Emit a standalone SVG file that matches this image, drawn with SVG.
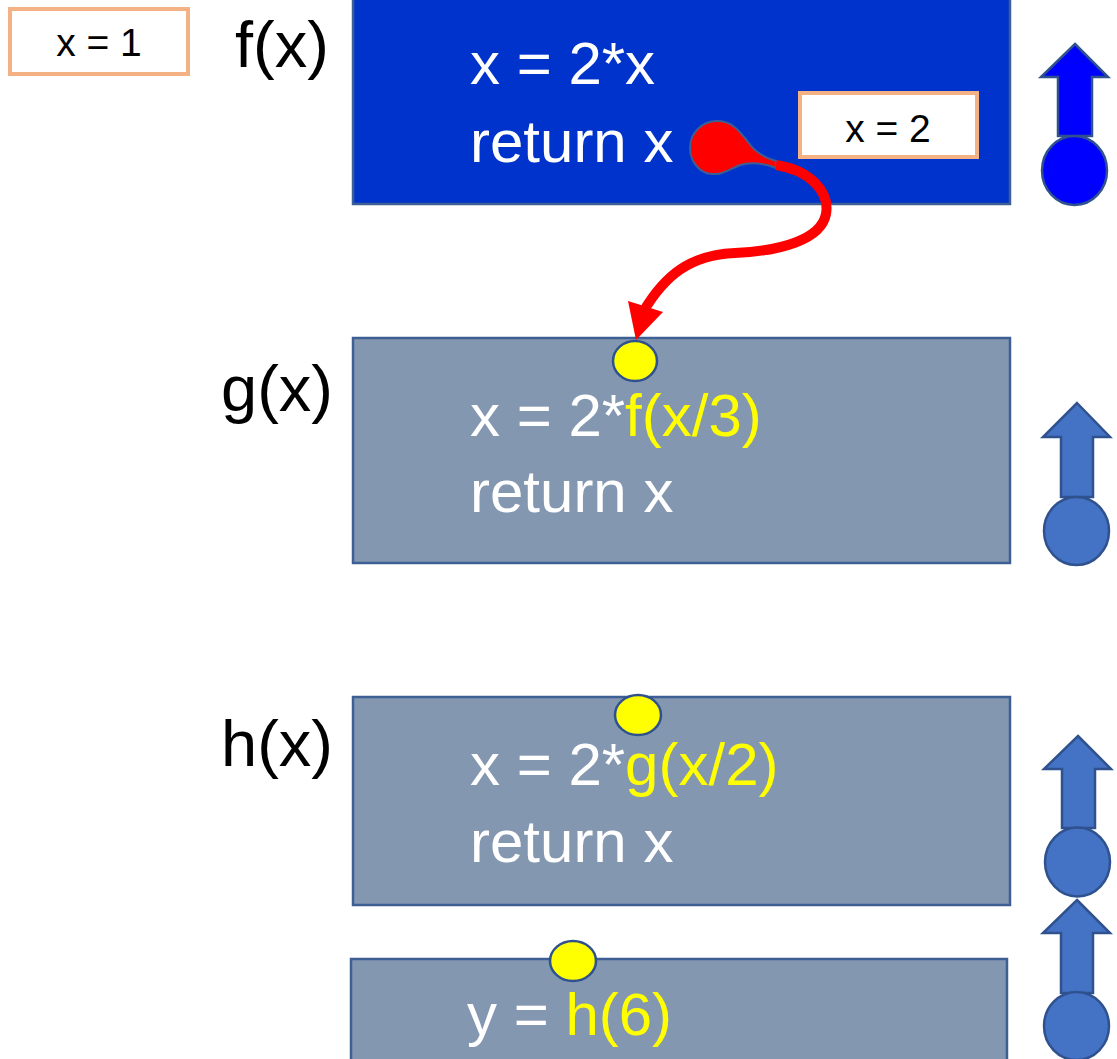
<svg xmlns="http://www.w3.org/2000/svg" width="1117" height="1059" viewBox="0 0 1117 1059">
<style>
text{font-family:"Liberation Sans",Arial,sans-serif}
.lbl{font-size:65px;fill:#000}
.code{font-size:60px;fill:#fff}
.y{fill:#FFFF00}
.box{fill:#8497B0;stroke:#3E5F94;stroke-width:2.5}
.val{fill:#fff;stroke:#F4B183;stroke-width:4}
.valt{font-size:39px;fill:#000;text-anchor:middle}
.dot{fill:#FFFF00;stroke:#2F528F;stroke-width:2.5}
.up{fill:#4472C4;stroke:#2F528F;stroke-width:2.5}
.upb{fill:#0000FF;stroke:#2F528F;stroke-width:2.5}
</style>
<rect width="1117" height="1059" fill="#fff"/>
<g id="val1"><rect class="val" x="10" y="9" width="178" height="65"/><text class="valt" x="99" y="56">x = 1</text></g>
<g id="fnode">
<rect x="353" y="-5" width="657" height="209" fill="#0033CC" stroke="#3E5F94" stroke-width="2.5"/>
<text class="lbl" x="235" y="67">f(x)</text>
<text class="code" x="470" y="84">x = 2*x</text>
<text class="code" x="470" y="162">return x</text>
</g>
<g id="val2"><rect class="val" x="800" y="93" width="177" height="64"/><text class="valt" x="888" y="142">x = 2</text></g>
<g id="gnode">
<rect class="box" x="353" y="338" width="657" height="225"/>
<text class="lbl" x="221" y="411">g(x)</text>
<text class="code" x="470" y="436">x = 2*<tspan class="y">f(x/3)</tspan></text>
<text class="code" x="470" y="512">return x</text>
<ellipse class="dot" cx="635" cy="361" rx="22" ry="20"/>
</g>
<g id="hnode">
<rect class="box" x="353" y="697" width="657" height="208"/>
<text class="lbl" x="221" y="766">h(x)</text>
<text class="code" x="470" y="785">x = 2*<tspan class="y">g(x/2)</tspan></text>
<text class="code" x="470" y="862">return x</text>
<ellipse class="dot" cx="638" cy="715" rx="23" ry="20"/>
</g>
<g id="main">
<rect class="box" x="351" y="959" width="656" height="110"/>
<text class="code" x="467" y="1035">y = <tspan class="y">h(6)</tspan></text>
<ellipse class="dot" cx="573" cy="961" rx="23" ry="20"/>
</g>
<g id="stack">
<path class="upb" d="M1075 44 L1108 77 L1092 77 L1092 136 L1058 136 L1058 77 L1041 77 Z"/>
<ellipse class="upb" cx="1074.5" cy="170.5" rx="32.5" ry="34.5"/>
<path class="up" d="M1077 403 L1110 437 L1093 437 L1093 497 L1061 497 L1061 437 L1043 437 Z"/>
<ellipse class="up" cx="1076.5" cy="531" rx="32.5" ry="34"/>
<path class="up" d="M1078 736 L1111 769 L1095 769 L1095 828 L1062 828 L1062 769 L1044 769 Z"/>
<ellipse class="up" cx="1077.5" cy="862" rx="32.5" ry="34.5"/>
<path class="up" d="M1077 900 L1110 933 L1093 933 L1093 993 L1061 993 L1061 933 L1043 933 Z"/>
<ellipse class="up" cx="1076.5" cy="1026" rx="32.5" ry="34"/>
</g>
<g id="connectors">
<path d="M717 121 C733 121 740 132 748 142 C755 152 765 158 776 161 L776 168 C765 164 752 161 740 165 C728 170 722 175 712 174 C698 173 690 160 690 148 C690 133 702 121 717 121 Z" fill="#FF0000" stroke="#3E5F94" stroke-width="2"/>
<path d="M776 165 C810 170 830 192 826 214 C821 240 780 251 735 253 C690 255 665 275 643 312" fill="none" stroke="#FF0000" stroke-width="10"/>
<polygon points="636,340 628,301 663,312" fill="#FF0000"/>
</g>
</svg>
